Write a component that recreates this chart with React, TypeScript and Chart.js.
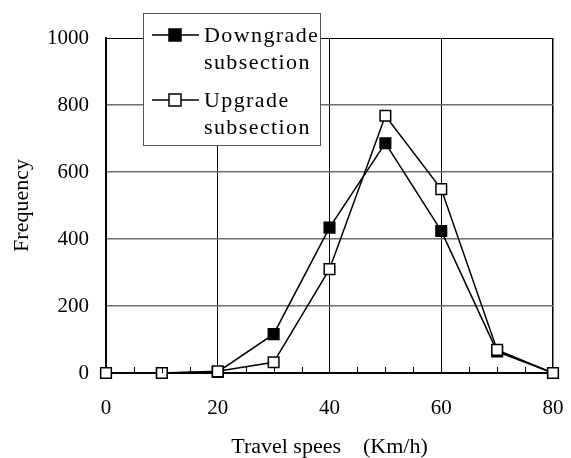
import React, { useEffect, useRef } from "react";
import { Chart, registerables } from "chart.js";

Chart.register(...registerables);

const speeds = [0, 10, 20, 30, 40, 50, 60, 70, 80];
const downgrade = [0, 0, 3, 116, 434, 686, 424, 64, 0];
const upgrade = [0, 0, 5, 32, 310, 768, 549, 69, 0];
const legendLabels = [
  ["Downgrade", "subsection"],
  ["Upgrade", "subsection"],
];
const xTitle = "Travel spees\u3000(Km/h)";
const yTitle = "Frequency";

const FONT = "'Liberation Serif', 'Times New Roman', serif";

const overlayPlugin = {
  id: "overlay",
  afterDraw(chart: any) {
    const { ctx, scales } = chart;
    const xs = scales.x;
    const ys = scales.y;
    const y0 = ys.getPixelForValue(0);
    ctx.save();
    ctx.strokeStyle = "#000";
    ctx.lineWidth = 1;
    for (let v = 5; v < 80; v += 5) {
      if (v % 20 === 0) continue;
      const px = Math.round(xs.getPixelForValue(v)) + 0.5;
      ctx.beginPath();
      ctx.moveTo(px, y0);
      ctx.lineTo(px, y0 - 6);
      ctx.stroke();
    }
    const bx = 143, by = 13, bw = 177, bh = 132;
    ctx.fillStyle = "#fff";
    ctx.fillRect(bx, by, bw, bh);
    ctx.strokeStyle = "#555";
    ctx.lineWidth = 1;
    ctx.strokeRect(bx + 0.5, by + 0.5, bw, bh);
    const rows = [
      { y: 35, fill: "#000" },
      { y: 100, fill: "#fff" },
    ];
    ctx.font = `22px ${FONT}`;
    (ctx as any).letterSpacing = "1.4px";
    ctx.textBaseline = "alphabetic";
    ctx.textAlign = "left";
    rows.forEach((r, i) => {
      ctx.strokeStyle = "#000";
      ctx.lineWidth = 1.5;
      ctx.beginPath();
      ctx.moveTo(152, r.y);
      ctx.lineTo(199, r.y);
      ctx.stroke();
      ctx.fillStyle = r.fill;
      ctx.fillRect(169, r.y - 6, 12, 12);
      ctx.strokeRect(169, r.y - 6, 12, 12);
      ctx.fillStyle = "#000";
      ctx.fillText(legendLabels[i][0], 204, r.y + 7);
      ctx.fillText(legendLabels[i][1], 204, r.y + 34);
    });
    ctx.restore();
  },
};

export default function App() {
  const ref = useRef<HTMLCanvasElement>(null);
  useEffect(() => {
    document.body.style.margin = "0";
    const chart = new Chart(ref.current!, {
      type: "line",
      data: {
        datasets: [
          {
            label: legendLabels[0].join(" "),
            data: speeds.map((x, i) => ({ x, y: downgrade[i] })),
            borderColor: "#000",
            backgroundColor: "#000",
            pointBackgroundColor: "#000",
            pointBorderColor: "#000",
            pointStyle: "rect",
            pointRadius: 7.5,
            pointBorderWidth: 1.5,
            borderWidth: 1.5,
            tension: 0,
            clip: false,
            order: 1,
          },
          {
            label: legendLabels[1].join(" "),
            data: speeds.map((x, i) => ({ x, y: upgrade[i] })),
            borderColor: "#000",
            backgroundColor: "#fff",
            pointBackgroundColor: "#fff",
            pointBorderColor: "#000",
            pointStyle: "rect",
            pointRadius: 7.5,
            pointBorderWidth: 1.5,
            borderWidth: 1.5,
            tension: 0,
            clip: false,
            order: 0,
          },
        ],
      },
      options: {
        responsive: false,
        animation: false,
        layout: { padding: { top: 38, right: 18, left: 0, bottom: 0 } },
        plugins: { legend: { display: false }, tooltip: { enabled: false } },
        scales: {
          x: {
            type: "linear",
            min: 0,
            max: 80,
            afterFit: (s: any) => {
              s.height = 85;
              s.paddingLeft = 0;
              s.paddingRight = 0;
            },
            ticks: {
              stepSize: 5,
              autoSkip: false,
              maxRotation: 0,
              padding: 23,
              color: "#000",
              font: { family: FONT, size: 21 },
              callback: (v: any) => (v % 20 === 0 ? String(v) : ""),
            },
            grid: {
              drawTicks: false,
              color: (c: any) =>
                c.tick && c.tick.value % 20 === 0 && c.tick.value > 0 ? "#000" : "transparent",
              lineWidth: (c: any) => (c.tick && c.tick.value === 80 ? 1.5 : 1),
            },
            border: { color: "#000", width: 2 },
            title: {
              display: true,
              text: xTitle,
              color: "#000",
              font: { family: FONT, size: 22, lineHeight: 1 },
              padding: { top: 0, bottom: 0 },
            },
          },
          y: {
            min: 0,
            max: 1000,
            afterFit: (s: any) => {
              s.width = 106;
            },
            ticks: {
              stepSize: 200,
              padding: 17,
              color: "#000",
              font: { family: FONT, size: 21 },
              callback: (v: any) => String(v),
            },
            grid: {
              drawTicks: false,
              color: (c: any) =>
                c.tick && c.tick.value === 1000 ? "#000" : c.tick && c.tick.value > 0 ? "#6e6e6e" : "transparent",
              lineWidth: (c: any) => (c.tick && c.tick.value === 1000 ? 1 : 1.5),
            },
            border: { color: "#000", width: 2 },
            title: {
              display: true,
              text: yTitle,
              color: "#000",
              font: { family: FONT, size: 22 },
              padding: { top: 9, bottom: 0 },
            },
          },
        },
      },
      plugins: [overlayPlugin],
    });
    return () => chart.destroy();
  }, []);
  return (
    <div style={{ position: "absolute", left: 0, top: 0, width: 571, height: 458, background: "#fff" }}>
      <canvas ref={ref} width={571} height={458} />
    </div>
  );
}
